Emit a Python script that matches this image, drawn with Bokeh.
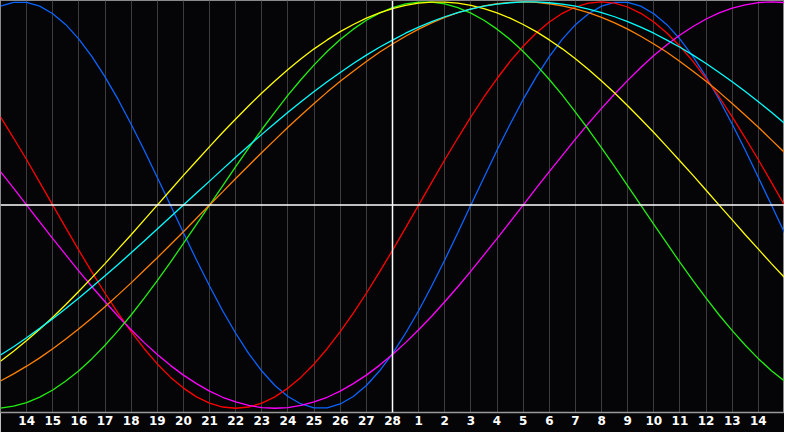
import numpy as np
from bokeh.plotting import figure
from bokeh.models import Range1d, FixedTicker, Span
from bokeh.embed import file_html
from bokeh.resources import INLINE

# Day labels (Feb 14 .. Mar 14), one per grid line
day_labels = [str(d) for d in range(14, 29)] + [str(d) for d in range(1, 15)]
tick_pos = list(range(1, 30))
today_pos = 15  # "28"

# sample positions: every half day from left edge (day 13) to right edge (day 15)
sample_x = np.arange(0, 30.01, 0.5)

# cycle values in per mille (-1000 .. 1000), read every half day
physical = [979,998,998,979,942,888,817,731,631,520,398,270,136,0,-136,-270,-398,-520,-631,-731,
            -817,-888,-942,-979,-998,-998,-979,-942,-888,-817,-731,-631,-520,-398,-270,-136,0,136,
            270,398,520,631,731,817,888,942,979,998,998,979,942,888,817,731,631,520,398,270,136,0,-136]
emotional = [434,330,223,112,0,-112,-223,-330,-434,-532,-623,-707,-782,-847,-901,-944,-975,-994,-1000,
             -994,-975,-944,-901,-847,-782,-707,-623,-532,-434,-330,-223,-112,0,112,223,330,434,532,623,
             707,782,847,901,944,975,994,1000,994,975,944,901,847,782,707,623,532,434,330,223,112,0]
intellectual = [-999,-990,-972,-945,-910,-866,-815,-756,-690,-618,-541,-458,-372,-282,-189,-95,0,95,189,
                282,372,458,541,618,690,756,815,866,910,945,972,990,999,999,990,972,945,910,866,815,756,
                690,618,541,458,372,282,189,95,0,-95,-189,-282,-372,-458,-541,-618,-690,-756,-815,-866]
intuitive = [165,83,0,-83,-165,-245,-325,-402,-476,-547,-614,-677,-736,-789,-837,-879,-916,-946,-969,
             -986,-997,-1000,-997,-986,-969,-946,-916,-879,-837,-789,-736,-677,-614,-547,-476,-402,-325,
             -245,-165,-83,0,83,165,245,325,402,476,547,614,677,736,789,837,879,916,946,969,986,997,1000,997]
aesthetic = [-769,-720,-667,-611,-552,-489,-424,-357,-288,-217,-146,-73,0,73,146,217,288,357,424,489,552,
             611,667,720,769,813,854,889,920,946,967,983,994,999,999,994,983,967,946,920,889,854,813,769,
             720,667,611,552,489,424,357,288,217,146,73,0,-73,-146,-217,-288,-357]
awareness = [-866,-831,-793,-752,-707,-659,-609,-556,-500,-442,-383,-321,-259,-195,-131,-65,0,65,131,195,
             259,321,383,442,500,556,609,659,707,752,793,831,866,897,924,947,966,981,991,998,1000,998,991,
             981,966,947,924,897,866,831,793,752,707,659,609,556,500,442,383,321,259]
spiritual = [-738,-697,-653,-607,-559,-509,-457,-403,-348,-292,-235,-177,-118,-59,0,59,118,177,235,292,
             348,403,457,509,559,607,653,697,738,777,812,846,876,903,927,947,965,979,989,996,1000,1000,996,
             989,979,965,947,927,903,876,846,812,777,738,697,653,607,559,509,457,403]

series = [
    (physical, "#0a64ff"),
    (emotional, "#ff0000"),
    (intuitive, "#ff00ff"),
    (intellectual, "#22ee11"),
    (aesthetic, "#ffff00"),
    (awareness, "#ff8000"),
    (spiritual, "#00ffff"),
]

bg = "#050508"
p = figure(width=784, height=432, x_range=Range1d(0, 30), y_range=Range1d(-1021, 1007),
           output_backend="svg", toolbar_location=None, background_fill_color=bg,
           border_fill_color=bg, min_border=0, min_border_bottom=20, y_axis_location=None)
p.xaxis.ticker = FixedTicker(ticks=tick_pos)
p.xaxis.major_label_overrides = {t: l for t, l in zip(tick_pos, day_labels)}
p.xaxis.major_tick_line_color = None
p.xaxis.major_tick_out = 0
p.xaxis.major_tick_in = 0
p.xaxis.minor_tick_line_color = None
p.xaxis.axis_line_color = "#9a9a9a"
p.xaxis.axis_line_width = 1.5
p.xaxis.major_label_text_color = "white"
p.xaxis.major_label_text_font = "DejaVu Sans"
p.xaxis.major_label_text_font_style = "bold"
p.xaxis.major_label_text_font_size = "12px"
p.xaxis.major_label_standoff = 3
p.xgrid.ticker = FixedTicker(ticks=tick_pos)
p.xgrid.grid_line_color = "#3c3c3c"
p.ygrid.grid_line_color = None
p.outline_line_color = "#8a8a8a"

for vals, col in series:
    p.line(sample_x, vals, line_color=col, line_width=1.3)

p.add_layout(Span(location=0, dimension="width", line_color="white", line_width=1.5))
p.add_layout(Span(location=today_pos, dimension="height", line_color="white", line_width=1.5))

open("out.html", "w").write(file_html(p, INLINE))
